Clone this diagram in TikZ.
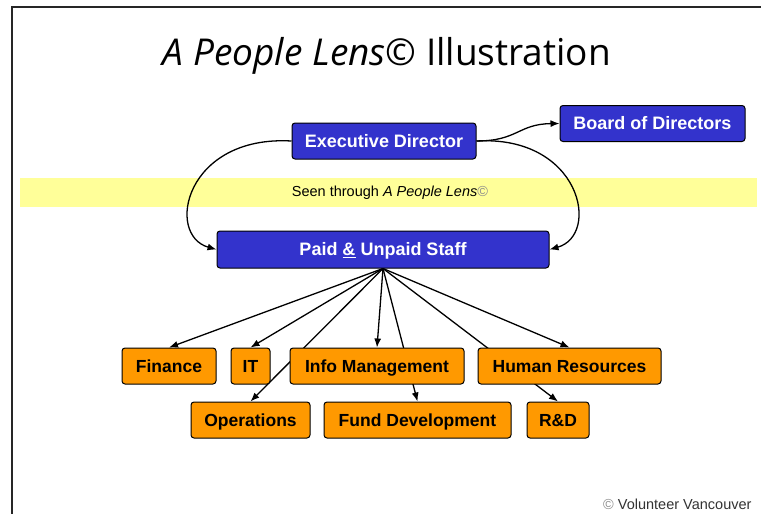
\documentclass[tikz,border=0pt]{standalone}
\usepackage{fontspec}
\setmainfont{Liberation Sans}
\newfontfamily\titlefont{Open Sans}
\usetikzlibrary{arrows.meta,backgrounds}
\definecolor{boxblue}{RGB}{51,51,204}
\definecolor{boxorange}{RGB}{255,153,0}
\definecolor{lensyellow}{RGB}{255,255,153}
\begin{document}
\begin{tikzpicture}[x=1pt, y=-1pt,
    bluebox/.style={draw=black, line width=1pt, fill=boxblue, rounded corners=3pt, text=white,
        font=\fontsize{18}{21}\selectfont\bfseries, minimum height=36pt, inner sep=0pt,
        text height=12.9pt, text depth=0pt},
    orangebox/.style={draw=black, line width=1pt, fill=boxorange, rounded corners=3pt,
        font=\fontsize{17.5}{20}\selectfont\bfseries, minimum height=36pt, inner sep=0pt,
        text height=12.5pt, text depth=0pt},
    link/.style={-{Latex[length=9pt, width=7pt]}, line width=1.3pt}]
    \useasboundingbox (0, 0) rectangle (761, 514);
    %cornice
    \draw[line width=2pt, black!85] (11.5, 514) -- (11.5, 6.5) -- (761, 6.5);
    %titolo
    \node[anchor=base] (title) at (387, 65) {\titlefont\fontsize{37}{42}\selectfont{\itshape A People Lens©} Illustration};
    %direzione
    \node[bluebox, minimum width=184pt] (exec) at (384, 141) {Executive Director};
    \node[bluebox, minimum width=185pt] (board) at (652.5, 123.5) {Board of Directors};
    \node[bluebox, minimum width=332pt, minimum height=37pt] (staff) at (383, 249.5) {Paid \underline{\&} Unpaid Staff};
    %settori
    \node[orangebox, minimum width=94pt] (finance) at (169, 366) {Finance};
    \node[orangebox, minimum width=39pt] (it) at (250.5, 366) {IT};
    \node[orangebox, minimum width=174pt] (info) at (377, 366) {Info Management};
    \node[orangebox, minimum width=183pt] (hr) at (569.5, 366) {Human Resources};
    \node[orangebox, minimum width=119pt] (ops) at (250.5, 420) {Operations};
    \node[orangebox, minimum width=187pt] (fund) at (417.5, 420) {Fund Development};
    \node[orangebox, minimum width=62pt] (rd) at (558, 420) {R\&D};
    %nota
    \node[anchor=base east, text=black!80, font=\fontsize{14.5}{17}\selectfont] (credit) at (755, 509)
        {{\color{black!45}©} Volunteer Vancouver};
    \begin{pgfonlayer}{background}
        %lente
        \fill[lensyellow] (20, 178) rectangle (757, 207);
        \node[font=\fontsize{14.5}{17}\selectfont] (lens) at (390, 193)
            {Seen through \textit{A People Lens}{\color{black!45}©}};
        %frecce
        \draw[link] (exec.east) .. controls (518, 141) and (518, 124) .. (board.west);
        \draw[link] (exec.west) .. controls (185, 135) and (165, 235) .. (staff.west);
        \draw[link] (exec.east) .. controls (581, 135) and (601, 235) .. (staff.east);
        \draw[link] (staff.south) -- (finance.north);
        \draw[link] (staff.south) -- (it.north);
        \draw[link] (staff.south) -- (ops.north);
        \draw[link] (staff.south) -- (info.north);
        \draw[link] (staff.south) -- (fund.north);
        \draw[link] (staff.south) -- (rd.north);
        \draw[link] (staff.south) -- (hr.north);
    \end{pgfonlayer}
\end{tikzpicture}
\end{document}
